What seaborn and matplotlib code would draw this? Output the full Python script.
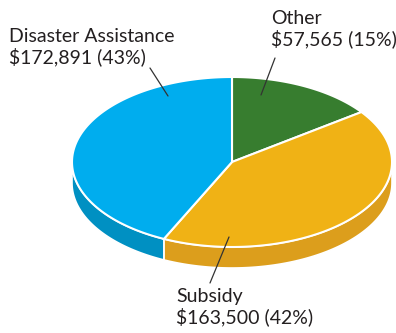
import numpy as np
import matplotlib
matplotlib.use("Agg")
import matplotlib.pyplot as plt
import seaborn as sns
from matplotlib.patches import Polygon

sns.set_style("white")
plt.rcParams['font.family'] = ['Lato', 'DejaVu Sans']

categories = ["Other", "Subsidy", "Disaster Assistance"]
values = [57565, 163500, 172891]
percents = [15, 42, 43]
top_colors = ["#377d2f", "#f0b215", "#00adee"]
side_colors = ["#2a6424", "#dc9e1c", "#0090c2"]

W, H = 396, 333
fig = plt.figure(figsize=(W / 100, H / 100), dpi=100)
ax = fig.add_axes([0, 0, 1, 1])
ax.set_xlim(0, W)
ax.set_ylim(H, 0)
ax.axis("off")

cx, cy, a, b, depth = 232, 162, 160, 85, 21

def pt(theta_deg, dy=0):
    t = np.radians(theta_deg)
    return cx + a * np.cos(t), cy - b * np.sin(t) + dy

total = sum(percents)
fracs = [p / total for p in percents]
angles = []
start = 90.0
for f in fracs:
    end = start - f * 360
    angles.append((end, start))
    start = end

# side walls (front half: 180..360)
for (t1, t2), sc in zip(angles, side_colors):
    lo, hi = t1 % 360, t1 % 360 + (t2 - t1)
    for off in (0, 360, -360):
        s, e = max(lo + off, 180), min(hi + off, 360)
        if e > s:
            th = np.linspace(s, e, 100)
            top = [pt(t) for t in th]
            bot = [pt(t, depth) for t in th[::-1]]
            ax.add_patch(Polygon(top + bot, closed=True, facecolor=sc,
                                 edgecolor="white", linewidth=1.2, zorder=1))

# top wedges
for (t1, t2), tc in zip(angles, top_colors):
    th = np.linspace(t1, t2, 200)
    poly = [(cx, cy)] + [pt(t) for t in th]
    ax.add_patch(Polygon(poly, closed=True, facecolor=tc, edgecolor="white",
                         linewidth=1.5, joinstyle="miter", zorder=2))

# labels
txt = "#231f20"
fs = 14
money = ["${:,}".format(v) for v in values]
ax.text(271, 10, f"{categories[0]}\n{money[0]} ({percents[0]}%)",
        ha="left", va="top", fontsize=fs, color=txt, linespacing=1.15)
ax.text(176, 288, f"{categories[1]}\n{money[1]} ({percents[1]}%)",
        ha="left", va="top", fontsize=fs, color=txt, linespacing=1.15)
ax.text(9, 28, f"{categories[2]}\n{money[2]} ({percents[2]}%)",
        ha="left", va="top", fontsize=fs, color=txt, linespacing=1.15)

# leader lines
ax.plot([275, 261], [58, 95], color="#333333", lw=0.9, zorder=3)
ax.plot([150, 168], [68, 96], color="#333333", lw=0.9, zorder=3)
ax.plot([210, 229], [283, 237], color="#333333", lw=0.9, zorder=3)

fig.savefig("out.png", dpi=100)
